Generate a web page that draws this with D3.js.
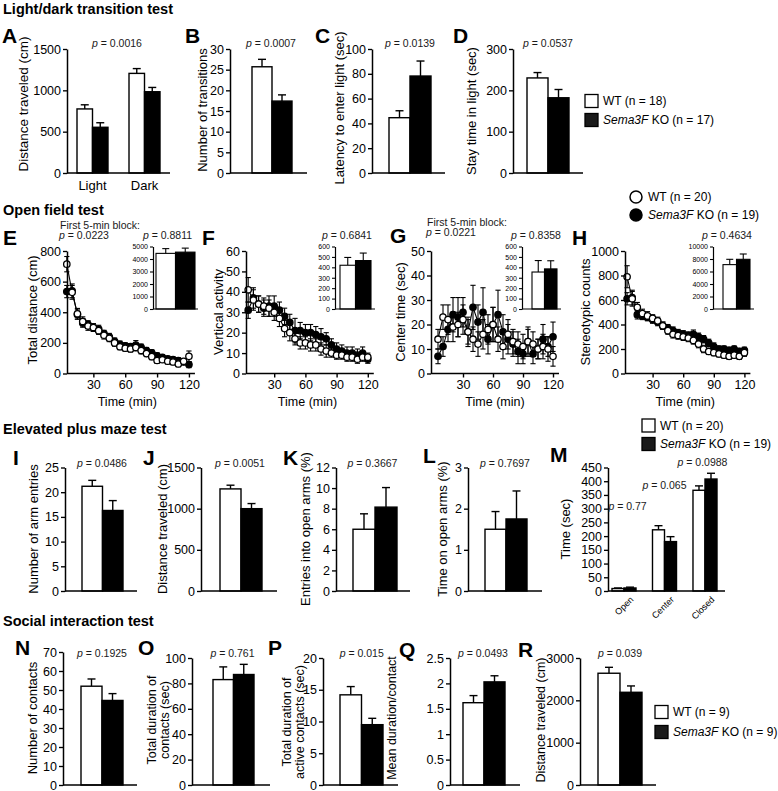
<!DOCTYPE html>
<html><head><meta charset="utf-8">
<script src="https://cdn.jsdelivr.net/npm/d3@7"></script>
<style>
body{margin:0;background:#fff}
svg{display:block}
</style></head><body>
<svg id="c" width="778" height="791"></svg>
<script>
// ---------------- DATA ----------------
const groups = ["WT", "Sema3F KO"];
// Light/dark transition test
const ldConds = ["Light", "Dark"];
const ldDistWT = [775, 1205], ldDistWTsem = [50, 58];
const ldDistKO = [553, 983], ldDistKOsem = [55, 52];
const ldTransitions = [25.7, 17.4], ldTransitionsSem = [1.8, 1.5];
const ldLatency = [44.6, 78.2], ldLatencySem = [5.6, 12.1];
const ldStay = [230, 182], ldStaySem = [13, 20];
const ldP = ["0.0016", "0.0007", "0.0139", "0.0537"];
const ldLegend = ["WT (n = 18)", "Sema3F KO (n = 17)"];
const ldTicksA = [0, 500, 1000, 1500], ldTicksB = [0, 5, 10, 15, 20, 25, 30],
      ldTicksC = [0, 20, 40, 60, 80, 100], ldTicksD = [0, 100, 200, 300];

// Open field test (5-min blocks)
const ofTime = [5,10,15,20,25,30,35,40,45,50,55,60,65,70,75,80,85,90,95,100,105,110,115,120];
const ofDistWT = [714,530,390,340,310,300,280,250,230,200,175,165,160,170,150,130,110,85,90,80,75,62,80,112];
const ofDistWTsem = [50,45,35,30,28,25,25,25,22,22,20,20,20,22,22,20,20,18,18,18,18,18,18,35];
const ofDistKO = [535,540,385,330,320,300,290,260,240,210,190,180,175,185,170,150,135,115,105,95,90,85,75,58];
const ofDistKOsem = [40,45,30,28,25,25,25,22,22,22,22,20,20,30,22,20,20,20,18,18,18,18,18,20];
const ofVertWT = [41,36,34,33,32,30,27,22,20,17,15,15,14,14,12,11,10,9,9,8,8,7,8,8];
const ofVertWTsem = [6,5,4,4,4,4,4,4,4,3,3,3,3,3,3,3,2,2,2,2,2,2,2,2];
const ofVertKO = [31,37,34,32,33,33,31,28,25,21,21,20,20,19,18,17,14,12,11,10,10,9,10,7];
const ofVertKOsem = [4,5,4,4,5,5,4,4,4,6,4,4,4,4,4,3,3,3,3,3,3,3,3,2];
const ofCenterWT = [14,23,22,19,20,22,17,14,12,16,18,20,14,11,16,13,12,11,13,12,10,11,10,7];
const ofCenterWTsem = [4,5,6,6,5,6,5,5,5,6,6,7,5,5,6,5,5,5,5,5,4,5,5,4];
const ofCenterKO = [7,11,18,24,23,25,17,27,21,25,14,20,24,17,14,12,9,8,13,8,10,14,11,15];
const ofCenterKOsem = [3,4,5,7,8,6,6,9,7,10,6,7,10,7,6,5,5,4,6,4,4,6,4,6];
const ofStereoWT = [790,610,540,490,470,450,430,390,350,320,310,300,290,270,240,200,180,170,160,150,140,150,140,170];
const ofStereoWTsem = [90,60,40,35,35,30,30,30,30,30,30,30,30,30,30,30,25,25,25,25,25,25,25,30];
const ofStereoKO = [610,620,480,470,460,440,420,390,370,350,330,320,310,320,300,280,250,220,200,200,190,200,180,190];
const ofStereoKOsem = [50,60,35,30,30,30,30,30,30,30,30,30,30,35,30,30,30,30,25,25,25,25,25,25];
const ofTotalDist = [4450, 4550], ofTotalDistSem = [380, 320];
const ofTotalVert = [420, 465], ofTotalVertSem = [75, 72];
const ofTotalCenter = [355, 385], ofTotalCenterSem = [110, 78];
const ofTotalStereo = [7100, 7950], ofTotalStereoSem = [850, 850];
const ofFirstBlockP = ["0.0223", "0.0221"];
const ofInsetP = ["0.8811", "0.6841", "0.8358", "0.4634"];
const ofLegend = ["WT (n = 20)", "Sema3F KO (n = 19)"];
const ofTimeTicks = [30, 60, 90, 120];
const ofTicksE = [0,200,400,600,800], ofTicksF = [0,10,20,30,40,50,60],
      ofTicksG = [0,10,20,30,40,50], ofTicksH = [0,200,400,600,800,1000];
const ofInsetTicksE = [0,1000,2000,3000,4000,5000], ofInsetTicksF = [0,100,200,300,400,500,600],
      ofInsetTicksG = [0,100,200,300,400,500,600], ofInsetTicksH = [0,2000,4000,6000,8000,10000];

// Elevated plus maze test
const epmEntries = [21.2, 16.3], epmEntriesSem = [1.2, 2.0];
const epmDistance = [1240, 1000], epmDistanceSem = [45, 62];
const epmOpenEntries = [6.0, 8.15], epmOpenEntriesSem = [1.5, 1.9];
const epmOpenTime = [1.5, 1.75], epmOpenTimeSem = [0.43, 0.68];
const epmZones = ["Open", "Center", "Closed"];
const epmZoneWT = [9, 223, 367], epmZoneWTsem = [2, 15, 16];
const epmZoneKO = [11, 180, 408], epmZoneKOsem = [3, 18, 21];
const epmP = ["0.0486", "0.0051", "0.3667", "0.7697"];
const epmZoneP = ["0.77", "0.065", "0.0988"];
const epmLegend = ["WT (n = 20)", "Sema3F KO (n = 19)"];
const epmTicksI = [0,5,10,15,20,25], epmTicksJ = [0,500,1000,1500], epmTicksK = [0,2,4,6,8,10,12],
      epmTicksL = [0,1,2,3], epmTicksM = [0,50,100,150,200,250,300,350,400,450];

// Social interaction test
const siContacts = [52, 44.5], siContactsSem = [3.8, 3.6];
const siDuration = [83, 87], siDurationSem = [10, 8];
const siActive = [14.2, 9.5], siActiveSem = [1.3, 1.0];
const siMean = [1.62, 2.03], siMeanSem = [0.14, 0.12];
const siDistance = [2640, 2190], siDistanceSem = [140, 150];
const siP = ["0.1925", "0.761", "0.015", "0.0493", "0.039"];
const siLegend = ["WT (n = 9)", "Sema3F KO (n = 9)"];
const siTicksN = [0,10,20,30,40,50,60,70], siTicksO = [0,20,40,60,80,100], siTicksP = [0,5,10,15,20],
      siTicksQ = [0,0.5,1,1.5,2,2.5], siTicksR = [0,1000,2000,3000];

// ---------------- DRAWING ----------------
const FONT = "'Liberation Sans', Arial, Helvetica, sans-serif";
const fills = ["#fff", "#000"];
const svg = d3.select("#c").attr("font-family", FONT);

function txt(x, y, s, o = {}) {
  const t = svg.append("text").attr("x", x).attr("y", y).text(s)
    .attr("font-size", o.size || 12).attr("font-family", FONT)
    .attr("font-weight", o.weight || "normal").attr("text-anchor", o.anchor || "start")
    .attr("fill", o.fill || "#000");
  if (o.baseline) t.attr("dominant-baseline", o.baseline);
  return t;
}
function section(s, y) { txt(3, y, s, {size: 14.5, weight: "bold"}); }
function letter(s, x, y) { txt(x, y, s, {size: 21, weight: "bold"}); }
function pLabel(cx, cy, val, size = 10.5) {
  const t = svg.append("text").attr("x", cx).attr("y", cy).attr("text-anchor", "middle")
    .attr("dominant-baseline", "central").attr("font-size", size).attr("fill", "#1a1a1a");
  t.append("tspan").attr("font-style", "italic").text("p");
  t.append("tspan").text(" = " + val);
}
function rotLabel(lines, cx, cy, size = 13, lh = 13) {
  const g = svg.append("g").attr("transform", `translate(${cx},${cy}) rotate(-90)`);
  lines.forEach((l, i) => {
    g.append("text").attr("x", 0).attr("y", (i - (lines.length - 1) / 2) * lh)
      .attr("text-anchor", "middle").attr("dominant-baseline", "central")
      .attr("font-size", size).attr("fill", "#000").text(l);
  });
}
function legendLabel(x, y, s, size = 12) {
  const t = svg.append("text").attr("x", x).attr("y", y).attr("dominant-baseline", "central")
    .attr("font-size", size).attr("fill", "#000");
  if (s.startsWith("Sema3F")) {
    t.append("tspan").attr("font-style", "italic").text("Sema3F");
    t.append("tspan").text(s.slice(6));
  } else t.text(s);
}
function squareLegend(x, y, labels, gap = 19) {
  labels.forEach((l, i) => {
    svg.append("rect").attr("x", x).attr("y", y + i * gap - 6.5).attr("width", 13).attr("height", 13)
      .attr("fill", i ? "#1a1a1a" : "#fff").attr("stroke", "#000").attr("stroke-width", 1.3);
    legendLabel(x + 18, y + i * gap, l);
  });
}
function circleLegend(x, y, labels, gap = 18) {
  labels.forEach((l, i) => {
    svg.append("circle").attr("cx", x).attr("cy", y + i * gap).attr("r", 6)
      .attr("fill", i ? "#000" : "#fff").attr("stroke", "#000").attr("stroke-width", 1.5);
    legendLabel(x + 12, y + i * gap, l);
  });
}
function yAxis(y, x, ticks, fs = 12.5, tl = 4, sw = 1.5, fmt = d => d) {
  const ax = d3.axisLeft(y).tickValues(ticks).tickSizeOuter(0).tickSizeInner(tl).tickPadding(2).tickFormat(fmt);
  const g = svg.append("g").attr("transform", `translate(${x},0)`).call(ax);
  g.attr("font-family", FONT);
  g.selectAll("path").attr("stroke", "#000").attr("stroke-width", sw);
  g.selectAll("line").attr("stroke", "#000").attr("stroke-width", sw * 0.9);
  g.selectAll("text").attr("font-size", fs).attr("fill", "#000");
  return g;
}
function hLine(x1, x2, y, sw = 1.5) {
  svg.append("line").attr("x1", x1).attr("x2", x2).attr("y1", y).attr("y2", y)
    .attr("stroke", "#000").attr("stroke-width", sw);
}
function drawBars(xs, off, y, items, cap = 4, sw = 1.4) {
  const g = svg.append("g");
  items.forEach(d => {
    const x0 = off + xs(d.key), w = xs.bandwidth(), cx = x0 + w / 2;
    g.append("line").attr("x1", cx).attr("x2", cx).attr("y1", y(d.v)).attr("y2", y(d.v + d.e))
      .attr("stroke", "#000").attr("stroke-width", sw);
    g.append("line").attr("x1", cx - cap).attr("x2", cx + cap).attr("y1", y(d.v + d.e)).attr("y2", y(d.v + d.e))
      .attr("stroke", "#000").attr("stroke-width", sw);
    g.append("rect").attr("x", x0).attr("y", y(d.v)).attr("width", w).attr("height", y(0) - y(d.v))
      .attr("fill", d.fill).attr("stroke", "#000").attr("stroke-width", sw);
  });
}
function barPanel(c) {
  const y = d3.scaleLinear().domain([0, c.max]).range([c.bottom, c.top]);
  const x = d3.scaleBand().domain(groups).range([c.bx0, c.bx1]).padding(0);
  drawBars(x, 0, y, groups.map((g, i) => ({key: g, v: c.values[i], e: c.sems[i], fill: fills[i]})), c.cap || 4, c.sw || 1.4);
  hLine(c.axisX, c.xEnd, c.bottom, c.sw ? c.sw + 0.1 : 1.5);
  yAxis(y, c.axisX, c.ticks, c.fs || 12.5, c.tl || 4, c.sw ? c.sw + 0.1 : 1.5);
  return y;
}
function groupedPanel(c) {
  const y = d3.scaleLinear().domain([0, c.max]).range([c.bottom, c.top]);
  const outer = d3.scaleBand().domain(c.cats).range([c.bx0, c.bx1]).paddingInner(c.pad).paddingOuter(0);
  const inner = d3.scaleBand().domain(groups).range([0, outer.bandwidth()]).padding(0);
  c.cats.forEach((cat, j) => {
    drawBars(inner, outer(cat), y, [
      {key: groups[0], v: c.wt[j], e: c.wtE[j], fill: fills[0]},
      {key: groups[1], v: c.ko[j], e: c.koE[j], fill: fills[1]}], 4);
  });
  hLine(c.axisX, c.xEnd, c.bottom);
  yAxis(y, c.axisX, c.ticks);
  return {outer, y};
}
function timePanel(c) {
  const x = d3.scaleLinear().domain([0, 120]).range([c.x0, c.x0 + 120 * c.k]);
  const y = d3.scaleLinear().domain([0, c.max]).range([c.bottom, c.top]).clamp(true);
  const series = [
    {v: c.ko, e: c.koE, fill: "#000"},
    {v: c.wt, e: c.wtE, fill: "#fff"}];
  const g = svg.append("g");
  series.forEach(s => {
    const pts = ofTime.map((t, i) => ({t, v: s.v[i], e: s.e[i]}));
    g.selectAll(null).data(pts).join("line")
      .attr("x1", d => x(d.t)).attr("x2", d => x(d.t))
      .attr("y1", d => y(d.v - d.e)).attr("y2", d => y(d.v + d.e))
      .attr("stroke", "#000").attr("stroke-width", 1.1);
    [1, -1].forEach(sg => {
      g.selectAll(null).data(pts).join("line")
        .attr("x1", d => x(d.t) - 2.6).attr("x2", d => x(d.t) + 2.6)
        .attr("y1", d => y(d.v + sg * d.e)).attr("y2", d => y(d.v + sg * d.e))
        .attr("stroke", "#000").attr("stroke-width", 1.1);
    });
    g.append("path").datum(pts)
      .attr("d", d3.line().x(d => x(d.t)).y(d => y(d.v)))
      .attr("fill", "none").attr("stroke", "#000").attr("stroke-width", 1.1);
    g.selectAll(null).data(pts).join("circle")
      .attr("cx", d => x(d.t)).attr("cy", d => y(d.v)).attr("r", 3.2)
      .attr("fill", s.fill).attr("stroke", "#000").attr("stroke-width", 1.3);
  });
  // axes
  const xa = d3.axisBottom(x).tickValues(ofTimeTicks).tickSizeOuter(0).tickSize(4).tickPadding(3);
  const gx = svg.append("g").attr("transform", `translate(0,${c.bottom})`).call(xa);
  gx.select(".domain").remove();
  gx.selectAll("line").attr("stroke", "#000").attr("stroke-width", 1.4);
  gx.selectAll("text").attr("font-size", 12.5).attr("font-family", FONT).attr("fill", "#000");
  hLine(c.axisX, x(120) + 6, c.bottom);
  yAxis(y, c.axisX, c.ticks);
  txt(x(62), c.bottom + 32, "Time (min)", {size: 12.5, anchor: "middle"});
}
function insetPanel(c) {
  barPanel({axisX: c.axisX, xEnd: c.xEnd, top: 246.5, bottom: 309, max: c.max, ticks: c.ticks,
    bx0: c.bx0, bx1: c.bx1, values: c.values, sems: c.sems, fs: 7, tl: 3, sw: 1.1, cap: 3.5});
}

// ===== Row 1: Light/dark transition test =====
section("Light/dark transition test", 14);
const R1 = {top: 49, bottom: 173};
letter("A", 2, 43);
const gA = groupedPanel({cats: ldConds, bx0: 77, bx1: 160, pad: 0.404, axisX: 67, xEnd: 170,
  top: R1.top, bottom: R1.bottom, max: 1500, ticks: ldTicksA,
  wt: ldDistWT, wtE: ldDistWTsem, ko: ldDistKO, koE: ldDistKOsem});
ldConds.forEach(cat => txt(gA.outer(cat) + gA.outer.bandwidth() / 2, 190, cat, {size: 13, anchor: "middle"}));
rotLabel(["Distance traveled (cm)"], 23, 104, 13.5);
pLabel(117, 43, ldP[0]);

letter("B", 185, 43);
barPanel({axisX: 230, xEnd: 307, ...R1, max: 30, ticks: ldTicksB, bx0: 252, bx1: 292,
  values: ldTransitions, sems: ldTransitionsSem});
rotLabel(["Number of transitions"], 202, 110);
pLabel(271, 43, ldP[1]);

letter("C", 315, 43);
barPanel({axisX: 372, xEnd: 445, ...R1, max: 100, ticks: ldTicksC, bx0: 389, bx1: 431,
  values: ldLatency, sems: ldLatencySem});
rotLabel(["Latency to enter light (sec)"], 339, 108);
pLabel(410, 43, ldP[2]);

letter("D", 453, 43);
barPanel({axisX: 513, xEnd: 583, ...R1, max: 300, ticks: ldTicksD, bx0: 527, bx1: 569,
  values: ldStay, sems: ldStaySem});
rotLabel(["Stay time in light (sec)"], 471, 111);
pLabel(548, 43, ldP[3]);
squareLegend(585, 101, ldLegend, 19);

// ===== Row 2: Open field test =====
section("Open field test", 215);
const R2 = {top: 251, bottom: 373.5};
letter("E", 3, 245);
txt(60, 228.5, "First 5-min block:", {size: 10.5, fill: "#1a1a1a"});
pLabel(84, 235, ofFirstBlockP[0]);
timePanel({x0: 61.5, k: 1.062, axisX: 67, ...R2, max: 800, ticks: ofTicksE,
  wt: ofDistWT, wtE: ofDistWTsem, ko: ofDistKO, koE: ofDistKOsem});
rotLabel(["Total distance (cm)"], 32, 310);
insetPanel({axisX: 153, xEnd: 198, bx0: 156, bx1: 195, max: 5000, ticks: ofInsetTicksE,
  values: ofTotalDist, sems: ofTotalDistSem});
pLabel(167.5, 235, ofInsetP[0]);

letter("F", 202, 245);
timePanel({x0: 243, k: 1.04, axisX: 246, ...R2, max: 60, ticks: ofTicksF,
  wt: ofVertWT, wtE: ofVertWTsem, ko: ofVertKO, koE: ofVertKOsem});
rotLabel(["Vertical activity"], 218, 312);
insetPanel({axisX: 335, xEnd: 375, bx0: 340, bx1: 371, max: 600, ticks: ofInsetTicksF,
  values: ofTotalVert, sems: ofTotalVertSem});
pLabel(347, 235, ofInsetP[1]);

letter("G", 390, 243);
txt(427, 225.5, "First 5-min block:", {size: 10.5, fill: "#1a1a1a"});
pLabel(451, 232, ofFirstBlockP[1]);
timePanel({x0: 433, k: 1.0, axisX: 431, ...R2, max: 50, ticks: ofTicksG,
  wt: ofCenterWT, wtE: ofCenterWTsem, ko: ofCenterKO, koE: ofCenterKOsem});
rotLabel(["Center time (sec)"], 400, 312);
insetPanel({axisX: 522, xEnd: 561, bx0: 532, bx1: 557, max: 600, ticks: ofInsetTicksG,
  values: ofTotalCenter, sems: ofTotalCenterSem});
pLabel(536, 235, ofInsetP[2]);

letter("H", 572, 245);
timePanel({x0: 622, k: 1.02, axisX: 625, ...R2, max: 1000, ticks: ofTicksH,
  wt: ofStereoWT, wtE: ofStereoWTsem, ko: ofStereoKO, koE: ofStereoKOsem});
rotLabel(["Stereotypic counts"], 585, 312);
insetPanel({axisX: 713, xEnd: 754, bx0: 723, bx1: 750, max: 10000, ticks: ofInsetTicksH,
  values: ofTotalStereo, sems: ofTotalStereoSem});
pLabel(727, 235, ofInsetP[3]);
circleLegend(636, 197, ofLegend, 18);

// ===== Row 3: Elevated plus maze test =====
section("Elevated plus maze test", 433.5);
const R3 = {top: 467.5, bottom: 591};
letter("I", 13, 465);
barPanel({axisX: 65, xEnd: 137, ...R3, max: 25, ticks: epmTicksI, bx0: 82, bx1: 123,
  values: epmEntries, sems: epmEntriesSem});
rotLabel(["Number of arm entries"], 33, 529);
pLabel(102, 462.7, epmP[0]);

letter("J", 143, 465);
barPanel({axisX: 201, xEnd: 277, ...R3, max: 1500, ticks: epmTicksJ, bx0: 220, bx1: 262,
  values: epmDistance, sems: epmDistanceSem});
rotLabel(["Distance traveled (cm)"], 162, 529);
pLabel(240, 462.7, epmP[1]);

letter("K", 283, 465);
barPanel({axisX: 336, xEnd: 410, ...R3, max: 12, ticks: epmTicksK, bx0: 353, bx1: 397,
  values: epmOpenEntries, sems: epmOpenEntriesSem});
rotLabel(["Entries into open arms (%)"], 305, 529);
pLabel(372.5, 462.7, epmP[2]);

letter("L", 423, 463);
barPanel({axisX: 468, xEnd: 542, ...R3, max: 3, ticks: epmTicksL, bx0: 485, bx1: 527,
  values: epmOpenTime, sems: epmOpenTimeSem});
rotLabel(["Time on open arms (%)"], 442, 529);
pLabel(505, 462.7, epmP[3]);

letter("M", 550, 462);
const gM = groupedPanel({cats: epmZones, bx0: 612, bx1: 717, pad: 0.407, axisX: 608, xEnd: 725,
  top: R3.top, bottom: R3.bottom, max: 450, ticks: epmTicksM,
  wt: epmZoneWT, wtE: epmZoneWTsem, ko: epmZoneKO, koE: epmZoneKOsem});
epmZones.forEach(z => {
  const cx = gM.outer(z) + gM.outer.bandwidth() / 2 + 8, cy = R3.bottom + 7;
  svg.append("text").attr("transform", `translate(${cx},${cy}) rotate(-45)`)
    .attr("text-anchor", "end").attr("dominant-baseline", "central")
    .attr("font-size", 9).attr("fill", "#000").text(z);
});
rotLabel(["Time (sec)"], 565, 529);
pLabel(627.5, 505.7, epmZoneP[0]);
pLabel(664.5, 485, epmZoneP[1]);
pLabel(702.5, 461.7, epmZoneP[2]);
squareLegend(642, 425.5, epmLegend, 18.5);

// ===== Row 4: Social interaction test =====
section("Social interaction test", 625.5);
const R4 = {top: 658, bottom: 785};
letter("N", 15, 655);
barPanel({axisX: 63, xEnd: 137, top: 652, bottom: 785, max: 70, ticks: siTicksN, bx0: 81, bx1: 123,
  values: siContacts, sems: siContactsSem});
rotLabel(["Number of contacts"], 32, 718);
pLabel(102, 653.3, siP[0]);

letter("O", 138, 655);
barPanel({axisX: 192, xEnd: 270, ...R4, max: 100, ticks: siTicksO, bx0: 213, bx1: 254,
  values: siDuration, sems: siDurationSem});
rotLabel(["Total duration of", "contacts (sec)"], 158, 720, 12.5);
pLabel(232.5, 653.3, siP[1]);

letter("P", 268, 655);
barPanel({axisX: 323, xEnd: 398, ...R4, max: 20, ticks: siTicksP, bx0: 340, bx1: 383,
  values: siActive, sems: siActiveSem});
rotLabel(["Total duration of", "active contacts (sec)"], 293, 722, 12.5);
pLabel(361.7, 653.3, siP[2]);

letter("Q", 399, 657);
barPanel({axisX: 450, xEnd: 520, ...R4, max: 2.5, ticks: siTicksQ, bx0: 463, bx1: 505,
  values: siMean, sems: siMeanSem});
rotLabel(["Mean duration/contact"], 392, 718, 12.5);
pLabel(483, 653.3, siP[3]);

letter("R", 518, 657);
barPanel({axisX: 580, xEnd: 656, ...R4, max: 3000, ticks: siTicksR, bx0: 598, bx1: 642,
  values: siDistance, sems: siDistanceSem});
rotLabel(["Distance traveled (cm)"], 541, 720, 12.5);
pLabel(620, 653.3, siP[4]);
squareLegend(655, 712, siLegend, 20);
</script>
</body></html>
